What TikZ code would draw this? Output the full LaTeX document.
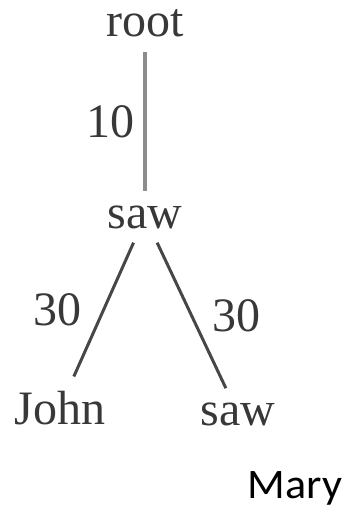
\documentclass[tikz,border=0pt]{standalone}
\usepackage{fontspec}
\setmainfont{Liberation Serif}
\newfontfamily\maryfont[FakeStretch=1.05]{Carlito}
\usepackage{tikz}
\pgfdeclarelayer{edgelayer}
\pgfdeclarelayer{nodelayer}
\pgfsetlayers{edgelayer,nodelayer,main}
\definecolor{wordgray}{gray}{0.22}
\definecolor{stemgray}{gray}{0.55}
\definecolor{branchgray}{gray}{0.28}
\tikzstyle{word}=[text=wordgray, inner sep=14pt, font=\fontsize{48}{58}\selectfont]
\tikzstyle{weight}=[text=wordgray, inner sep=9pt, font=\fontsize{48}{58}\selectfont]
\tikzstyle{stem}=[draw=stemgray, line width=3.2pt]
\tikzstyle{branch}=[draw=branchgray, line width=3pt]
\tikzstyle{plain}=[text=black, inner sep=0pt, font=\maryfont\fontsize{42}{50}\selectfont]

\begin{document}
\begin{tikzpicture}[x=1pt, y=-1pt]
						\useasboundingbox (0,0) rectangle (347,513);
						\begin{pgfonlayer}{nodelayer}
							\node [style=word, anchor=base] (root) at (145, 37) {root};
							\node [style=word, anchor=base] (saw1) at (145, 228) {saw};
							\node [style=word, anchor=base] (john) at (60, 424) {John};
							\node [style=word, anchor=base] (saw2) at (238, 425) {saw};
							\node [style=plain, anchor=base] (mary) at (295, 498) {Mary};
						\end{pgfonlayer}
						\begin{pgfonlayer}{edgelayer}
							\draw [style=stem] (root) to node [style=weight, left] {10} (saw1);
							\draw [style=branch] (saw1) to node [style=weight, left, xshift=-12pt] {30} (john);
							\draw [style=branch] (saw1) to node [style=weight, right, xshift=10pt] {30} (saw2);
						\end{pgfonlayer}
					\end{tikzpicture}
\end{document}
